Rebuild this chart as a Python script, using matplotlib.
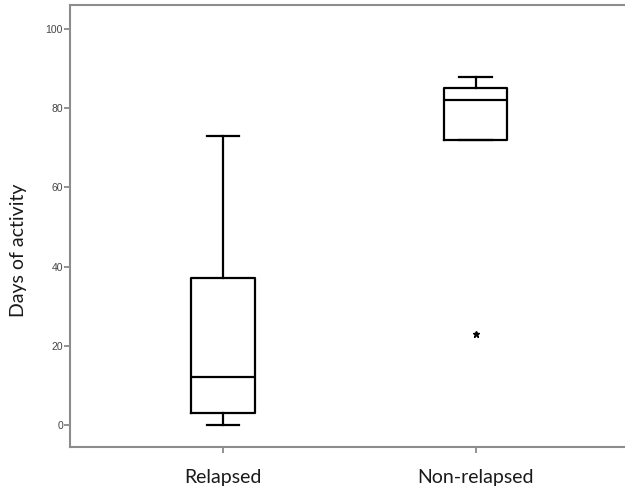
import matplotlib
matplotlib.use("Agg")
import matplotlib.pyplot as plt

# Box summary per group: lower whisker, Q1, median, Q3, upper whisker, outliers
groups = ["Relapsed", "Non-relapsed"]
whisker_low = [0, 72]
q1 = [3, 72]
median = [12, 82]
q3 = [37, 85]
whisker_high = [73, 88]
outliers = [[], [23]]
yticks = [0, 20, 40, 60, 80, 100]

stats = []
for i, name in enumerate(groups):
    stats.append(dict(label=name, whislo=whisker_low[i], q1=q1[i], med=median[i],
                      q3=q3[i], whishi=whisker_high[i], fliers=outliers[i]))

fig = plt.figure(figsize=(6.25, 4.91), dpi=100)
ax = fig.add_axes([0.112, 0.0896, 0.888, 0.9002])

lw = 1.6
ax.bxp(stats, positions=[1, 2], widths=0.25, capwidths=0.127,
       boxprops=dict(color="black", linewidth=lw),
       medianprops=dict(color="black", linewidth=lw),
       whiskerprops=dict(color="black", linewidth=lw),
       capprops=dict(color="black", linewidth=lw),
       flierprops=dict(marker="*", markersize=4.5, markerfacecolor="black",
                       markeredgecolor="black", linestyle="none"))

ax.set_xlim(0.394, 2.592)
ax.set_ylim(-5.56, 106.06)
ax.set_yticks(yticks)
ax.set_yticklabels([str(v) for v in yticks], fontsize=7.5, color="#444444",
                   family="Liberation Sans")
ax.set_xticks([1, 2])
ax.set_xticklabels(groups, fontsize=14, color="#1a1a1a", family="Lato")
ax.tick_params(axis="y", length=4, width=1.2, color="#808080", pad=1)
ax.tick_params(axis="x", length=4, width=1.2, color="#808080", pad=12)

for side in ["left", "bottom", "top"]:
    ax.spines[side].set_color("#8c8c8c")
    ax.spines[side].set_linewidth(1.5)
ax.spines["right"].set_visible(False)

ax.set_ylabel("Days of activity", fontsize=14, color="#1a1a1a", family="Lato")
ax.yaxis.set_label_coords(-0.0775, 0.446)

fig.savefig("out.png", dpi=100)
